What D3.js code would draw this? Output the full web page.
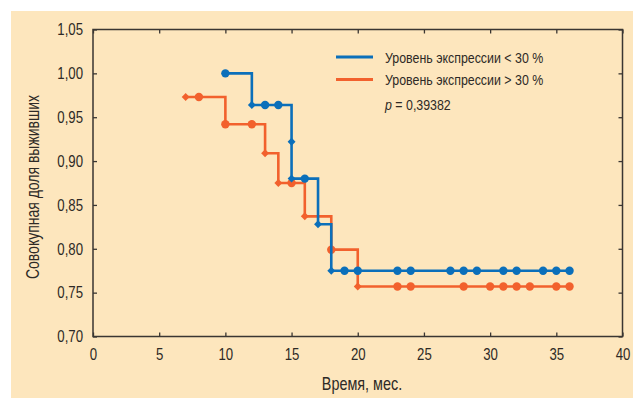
<!DOCTYPE html>
<html>
<head>
<meta charset="utf-8">
<script src="https://cdn.jsdelivr.net/npm/d3@7"></script>
<style>
  body { margin: 0; background: #fff; }
  svg text { font-family: "Liberation Sans", Arial, sans-serif; fill: #2e2a26; }
</style>
</head>
<body>
<svg id="chart" width="633" height="398"></svg>
<script>
// months, survival share, marker type (d = complete / diamond, c = censored / circle)
const lowTimes  = [10, 12, 13, 14, 15, 15, 16, 17, 18, 19, 20, 23, 24, 27, 28, 29, 31, 32, 34, 35, 36];
const lowValues = [1.000, 0.964, 0.964, 0.964, 0.922, 0.880, 0.880, 0.828, 0.775, 0.775, 0.775, 0.775, 0.775, 0.775, 0.775, 0.775, 0.775, 0.775, 0.775, 0.775, 0.775];
const lowMarks  = ['c','d','c','c','d','d','c','d','d','c','c','c','c','c','c','c','c','c','c','c','c'];

const highTimes  = [7, 8, 10, 12, 13, 14, 15, 16, 18, 20, 23, 24, 28, 30, 31, 32, 33, 35, 36];
const highValues = [0.973, 0.973, 0.942, 0.942, 0.909, 0.875, 0.875, 0.837, 0.799, 0.757, 0.757, 0.757, 0.757, 0.757, 0.757, 0.757, 0.757, 0.757, 0.757];
const highMarks  = ['d','c','c','c','d','d','c','d','c','d','c','c','c','c','c','c','c','c','c'];

const seriesNames = ['Уровень экспрессии < 30 %', 'Уровень экспрессии > 30 %'];
const xTicks = [0, 5, 10, 15, 20, 25, 30, 35, 40];
const yTicks = [0.70, 0.75, 0.80, 0.85, 0.90, 0.95, 1.00, 1.05];
const pValue = '0,39382';

const blue = '#0b6fba', orange = '#f2612d';
const margin = { left: 93, right: 10.5, top: 29.5, bottom: 61.5 };
const W = 633, H = 398;
const w = W - margin.left - margin.right;
const h = H - margin.top - margin.bottom;
const squeeze = 0.8; // condensed look of the original typeface

const svg = d3.select('#chart');

// squeeze text horizontally around its anchor point
function narrow(sel) {
  sel.each(function () {
    const t = d3.select(this);
    const tx = +t.attr('x') || 0, ty = +t.attr('y') || 0;
    const prev = t.attr('transform') || '';
    t.attr('x', 0).attr('y', 0)
      .attr('transform', `${prev} translate(${tx},${ty}) scale(${squeeze},1)`);
  });
}

// beige panel
svg.append('rect').attr('x', 11).attr('y', 11).attr('width', W - 11).attr('height', H - 11).attr('fill', '#fde6bd');

const x = d3.scaleLinear().domain([0, 40]).range([0, w]);
const y = d3.scaleLinear().domain([0.70, 1.05]).range([h, 0]);

const g = svg.append('g').attr('transform', `translate(${margin.left},${margin.top})`);

const comma = d => d3.format('.2f')(d).replace('.', ',');

function styleAxis(sel) {
  sel.select('.domain').remove();
  sel.selectAll('line').attr('stroke', '#3a3632').attr('stroke-width', 1.3);
  sel.selectAll('text').attr('font-size', 16.5).attr('fill', '#2e2a26').call(narrow);
  sel.attr('font-family', null);
}

g.append('g').attr('transform', `translate(0,${h})`)
  .call(d3.axisBottom(x).tickValues(xTicks).tickSizeInner(-4).tickSizeOuter(0).tickPadding(12))
  .call(styleAxis);
g.append('g')
  .call(d3.axisLeft(y).tickValues(yTicks).tickFormat(comma).tickSizeInner(-4).tickSizeOuter(0).tickPadding(10))
  .call(styleAxis);
g.append('g')
  .call(d3.axisTop(x).tickValues(xTicks).tickFormat('').tickSizeInner(-4).tickSizeOuter(0))
  .call(styleAxis);
g.append('g').attr('transform', `translate(${w},0)`)
  .call(d3.axisRight(y).tickValues(yTicks).tickFormat('').tickSizeInner(-4).tickSizeOuter(0))
  .call(styleAxis);

g.append('rect').attr('width', w).attr('height', h)
  .attr('fill', 'none').attr('stroke', '#3a3632').attr('stroke-width', 1.5);

function drawSeries(times, values, marks, color) {
  const pts = times.map((t, i) => ({ t, v: values[i], m: marks[i] }));
  const line = d3.line().x(d => x(d.t)).y(d => y(d.v)).curve(d3.curveStepAfter);
  g.append('path').datum(pts).attr('d', line)
    .attr('fill', 'none').attr('stroke', color).attr('stroke-width', 2.6);
  g.selectAll(null).data(pts.filter(d => d.m === 'c')).join('circle')
    .attr('cx', d => x(d.t)).attr('cy', d => y(d.v)).attr('r', 4.2).attr('fill', color);
  g.selectAll(null).data(pts.filter(d => d.m === 'd')).join('path')
    .attr('transform', d => `translate(${x(d.t)},${y(d.v)})`)
    .attr('d', d3.symbol(d3.symbolDiamond2, 40)).attr('fill', color);
}

drawSeries(highTimes, highValues, highMarks, orange);
drawSeries(lowTimes, lowValues, lowMarks, blue);

// legend
const legend = svg.append('g');
[blue, orange].forEach((c, i) => {
  const ly = 57 + i * 22.5;
  legend.append('line').attr('x1', 336).attr('x2', 373).attr('y1', ly).attr('y2', ly)
    .attr('stroke', c).attr('stroke-width', 3);
  legend.append('text').attr('x', 385).attr('y', ly + 5.5).attr('font-size', 15.5).text(seriesNames[i]).call(narrow);
});
const pt = legend.append('text').attr('x', 385).attr('y', 110).attr('font-size', 15.5);
pt.append('tspan').attr('font-style', 'italic').text('p');
pt.append('tspan').text(' = ' + pValue);
pt.call(narrow);

// axis titles
svg.append('text').attr('x', 362).attr('y', 390).attr('text-anchor', 'middle')
  .attr('font-size', 18).text('Время, мес.').call(narrow);
svg.append('text').attr('transform', 'translate(39,187) rotate(-90)').attr('text-anchor', 'middle')
  .attr('font-size', 17.5).text('Совокупная доля выживших').call(narrow);
</script>
</body>
</html>
